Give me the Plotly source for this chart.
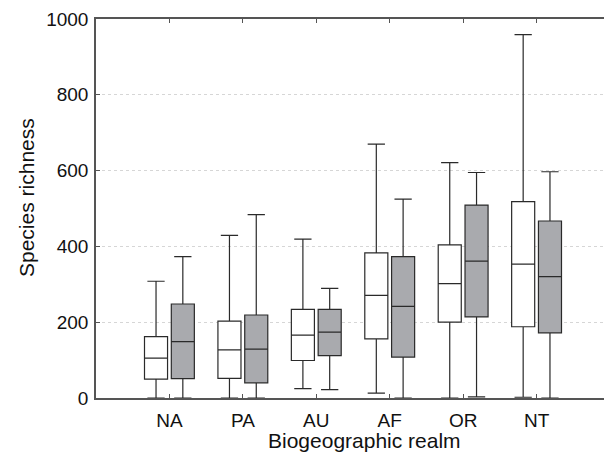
import plotly.graph_objects as go

realms = ["NA", "PA", "AU", "AF", "OR", "NT"]

# white boxes
w_low = [0, 0, 25, 13, 0, 2]
w_q1 = [50, 52, 99, 156, 200, 188]
w_med = [105, 127, 166, 271, 302, 353]
w_q3 = [162, 203, 234, 383, 404, 518]
w_high = [308, 429, 419, 670, 621, 959]

# grey boxes
g_low = [0, 0, 22, 0, 3, 0]
g_q1 = [51, 40, 112, 108, 214, 172]
g_med = [149, 129, 174, 242, 361, 320]
g_q3 = [248, 219, 234, 373, 509, 467]
g_high = [373, 484, 289, 525, 595, 597]

x_title = "Biogeographic realm"
y_title = "Species richness"

fig = go.Figure()
fig.add_trace(go.Box(
    x=realms, q1=w_q1, median=w_med, q3=w_q3,
    lowerfence=w_low, upperfence=w_high,
    fillcolor="white", line=dict(color="#2a2a2a", width=1.2),
    whiskerwidth=0.75, boxpoints=False, name="white", showlegend=False,
    hoverinfo="skip",
))
fig.add_trace(go.Box(
    x=realms, q1=g_q1, median=g_med, q3=g_q3,
    lowerfence=g_low, upperfence=g_high,
    fillcolor="#a9aaae", line=dict(color="#2a2a2a", width=1.2),
    whiskerwidth=0.75, boxpoints=False, name="grey", showlegend=False,
    hoverinfo="skip",
))

font = "Liberation Sans, Arial, Helvetica, sans-serif"
L, R, T, B = 88, 2, 11, 56
W, H = 604, 446
fig.update_layout(
    width=W, height=H,
    margin=dict(l=L, r=R, t=T, b=B, autoexpand=False),
    paper_bgcolor="white", plot_bgcolor="white",
    boxmode="group", boxgap=0.27, boxgroupgap=0.14,
    font=dict(family=font, size=19, color="#111"),
    showlegend=False,
)
fig.update_xaxes(
    type="category", range=[-1, 6],
    showline=True, linecolor="#555", linewidth=1.5, mirror="ticks",
    ticks="inside", ticklen=4, tickcolor="#555",
    showgrid=False, zeroline=False, automargin=False,
    tickfont=dict(size=19), ticklabelstandoff=4,
)
fig.update_yaxes(
    range=[0, 1000], tickvals=[0, 200, 400, 600, 800, 1000],
    showline=True, linecolor="#555", linewidth=1.5, mirror="ticks",
    ticks="inside", ticklen=4, tickcolor="#555",
    showgrid=True, gridcolor="#d6d6d6", griddash="dot", gridwidth=1,
    zeroline=False, automargin=False,
    tickfont=dict(size=19), ticklabelstandoff=2,
)
pw = W - L - R
ph = H - T - B
fig.add_annotation(
    text=x_title, xref="paper", yref="paper",
    x=(364 - 8 - L) / pw, y=-(451 - 8 - (T + ph)) / ph,
    xanchor="center", yanchor="bottom", showarrow=False,
    font=dict(size=21), yshift=-3,
)
fig.add_annotation(
    text=y_title, xref="paper", yref="paper",
    x=-(L - (13 - 8)) / pw, y=1 - (197.5 - 8 - T) / ph,
    xanchor="left", yanchor="middle", textangle=-90, showarrow=False,
    font=dict(size=21),
)
fig.write_html("out.html")
